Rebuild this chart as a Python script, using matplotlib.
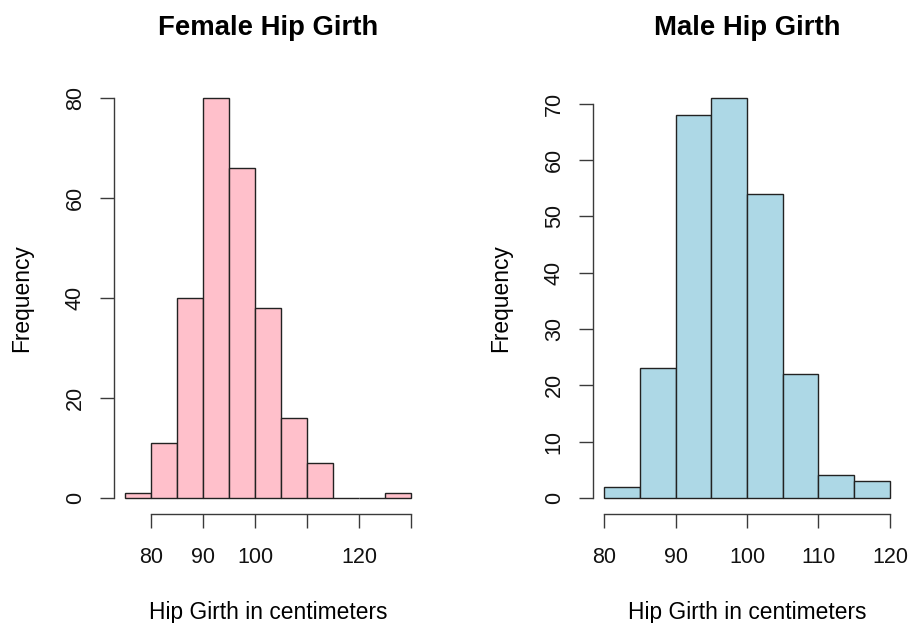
import matplotlib
matplotlib.use("Agg")
import matplotlib.pyplot as plt
import numpy as np

plt.rcParams['font.family'] = ['Liberation Sans', 'DejaVu Sans']

# Data
female_breaks = [75, 80, 85, 90, 95, 100, 105, 110, 115, 120, 125, 130]
female_counts = [1, 11, 40, 80, 66, 38, 16, 7, 0, 0, 1]
male_breaks = [80, 85, 90, 95, 100, 105, 110, 115, 120]
male_counts = [2, 23, 68, 71, 54, 22, 4, 3]

female_xticks = [80, 90, 100, 110, 120, 130]
female_xticklabels = ["80", "90", "100", "", "120", ""]
female_yticks = [0, 20, 40, 60, 80]
male_xticks = [80, 90, 100, 110, 120]
male_xticklabels = ["80", "90", "100", "110", "120"]
male_yticks = [0, 10, 20, 30, 40, 50, 60, 70]

titles = ["Female Hip Girth", "Male Hip Girth"]
xlabel = "Hip Girth in centimeters"
ylabel = "Frequency"

W, H = 910, 623
fig = plt.figure(figsize=(W / 100, H / 100), dpi=100)

axis_color = "#3a3a3a"
fs = 15.5
lfs = 16.4

def draw(rect, breaks, counts, color, xticks, xticklabels, yticks, title):
    ax = fig.add_axes(rect)
    b = np.array(breaks, dtype=float)
    ax.bar(b[:-1], counts, width=np.diff(b), align='edge', color=color,
           edgecolor='#222222', linewidth=1.0)
    xr = b[-1] - b[0]
    ax.set_xlim(b[0] - 0.04 * xr, b[-1] + 0.04 * xr)
    yr = max(counts)
    ax.set_ylim(-0.04 * yr, yr * 1.04)
    for s in ['top', 'right']:
        ax.spines[s].set_visible(False)
    ax.spines['bottom'].set_bounds(xticks[0], xticks[-1])
    ax.spines['left'].set_bounds(yticks[0], yticks[-1])
    for s in ['bottom', 'left']:
        ax.spines[s].set_color(axis_color)
        ax.spines[s].set_linewidth(1.0)
    ax.set_xticks(xticks)
    ax.set_xticklabels(xticklabels)
    ax.set_yticks(yticks)
    ax.set_yticklabels([str(v) for v in yticks], rotation=90, va='center')
    ax.tick_params(axis='both', length=10, width=1.0, color=axis_color,
                   labelsize=fs, labelcolor='#111111', direction='out')
    ax.tick_params(axis='x', pad=14)
    ax.tick_params(axis='y', pad=10)
    ax.set_title(title, fontsize=19.8, fontweight='bold',
                 y=(514 - 28) / 432, pad=0, va='center')
    ax.set_xlabel(xlabel, fontsize=lfs)
    ax.set_ylabel(ylabel, fontsize=lfs)
    ax.patch.set_visible(False)
    return ax

bottom = (H - 514) / H
height = 432 / H
ax1 = draw([113.6 / W, bottom, 308.8 / W, height], female_breaks, female_counts,
           '#FFC0CB', female_xticks, female_xticklabels, female_yticks, titles[0])
ax2 = draw([592.6 / W, bottom, 308.8 / W, height], male_breaks, male_counts,
           '#ADD8E6', male_xticks, male_xticklabels, male_yticks, titles[1])

for ax, ylab_x in ((ax1, 22), (ax2, 501)):
    ax.xaxis.label.set_va('center')
    ax.xaxis.set_label_coords(0.5, -(612 - 514) / 432)
    ax.yaxis.set_label_coords((ylab_x - ax.get_position().x0 * W) / 308.8, 0.5)
    ax.yaxis.label.set_va('center')

fig.savefig("out.png", dpi=100)
